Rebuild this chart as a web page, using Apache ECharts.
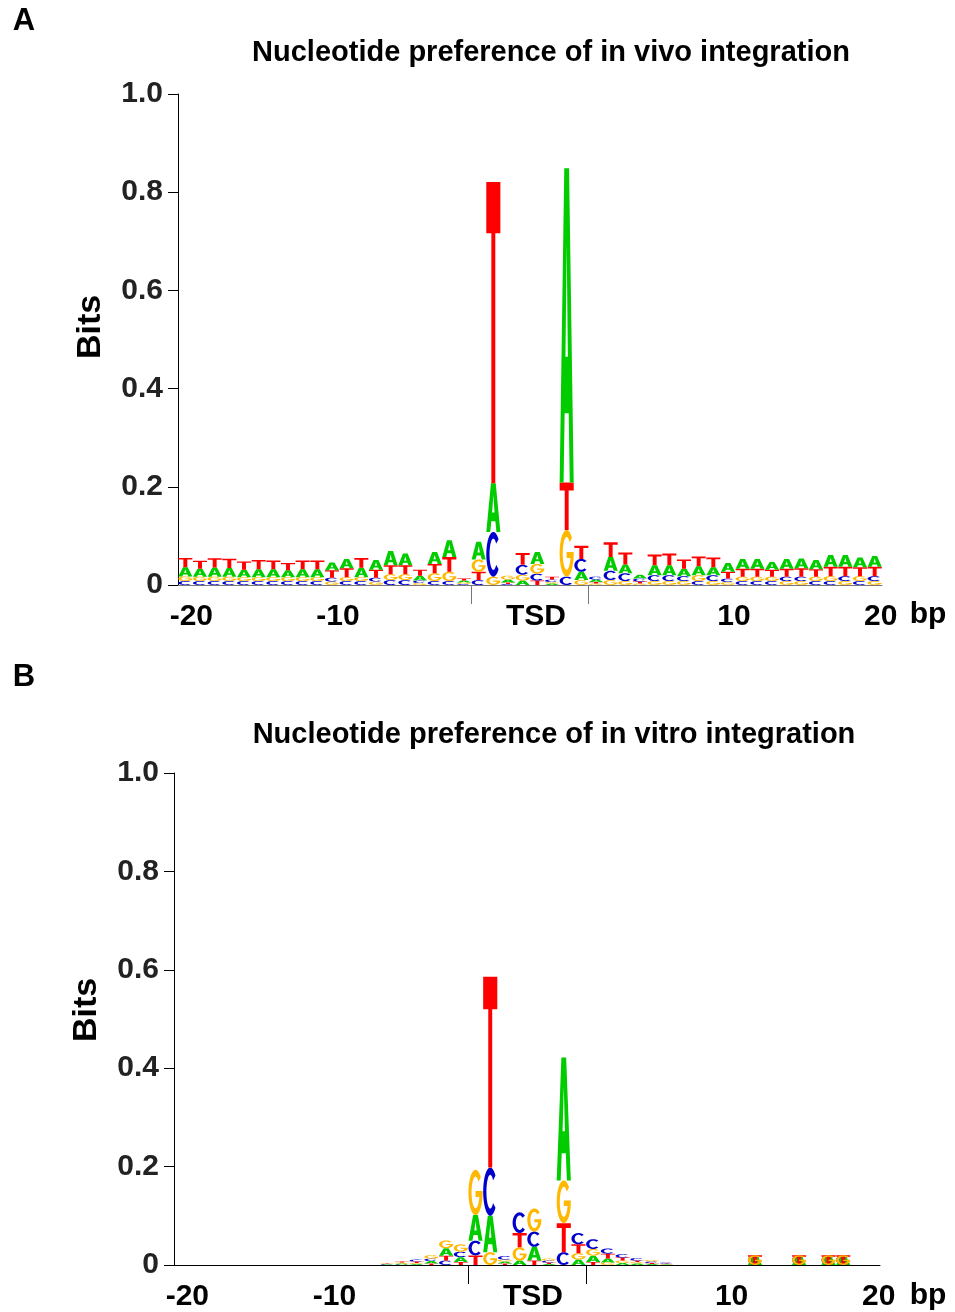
<!DOCTYPE html>
<html><head><meta charset="utf-8">
<script src="https://cdn.jsdelivr.net/npm/echarts@6.0.0/dist/echarts.min.js"></script>
<style>html,body{margin:0;padding:0;background:#fff}#c{width:955px;height:1312px}</style>
</head><body><div id="c"></div>
<script>
// ---- data (bits per nucleotide, columns: positions -20..-1, TSD 1..8, 1..20) ----
const letters = ['A', 'C', 'G', 'T'];
const letterColors = ['#00CC00', '#0000CC', '#FFB800', '#FF0000'];

const vivoA = [.0185,.016,.0185,.0175,.015,.016,.016,.014,.016,.016,
  .016,.019,.019,.020,.029,.024,.010,.024,.034,.004,
  .036,.099,.006,.009,.024,.003,.640,.017,.005,.028,
  .018,.008,.020,.020,.015,.018,.016,.018,.020,.020,
  .016,.020,.020,.019,.024,.024,.020,.022];
const vivoC = [.008,.008,.008,.008,.008,.008,.008,.008,.008,.008,
  .008,.008,.008,.008,.010,.010,.005,.008,.008,.002,
  .010,.091,.002,.020,.014,.005,.017,.026,.006,.019,
  .016,.006,.012,.012,.010,.008,.012,.007,.008,.008,
  .008,.009,.009,.008,.008,.010,.008,.010];
const vivoG = [.0095,.009,.009,.009,.008,.008,.008,.008,.008,.008,
  .007,.008,.008,.007,.012,.012,.004,.016,.019,.003,
  .025,.017,.008,.012,.020,.003,.095,.010,.003,.010,
  .008,.003,.008,.008,.008,.012,.008,.006,.009,.009,
  .009,.008,.008,.009,.010,.008,.010,.008];
const vivoT = [.019,.0165,.019,.019,.017,.019,.018,.015,.018,.018,
  .015,.018,.020,.016,.018,.018,.012,.019,.030,.004,
  .017,.614,.003,.024,.009,.006,.097,.027,.003,.030,
  .024,.004,.022,.024,.019,.020,.020,.014,.016,.016,
  .014,.016,.017,.015,.019,.019,.018,.019];

const vitroA = [0,0,0,0,0,0,0,0,0,0,
  0,0,0,0,.001,.002,.002,.005,.015,.010,
  .052,.074,.004,.009,.028,.002,.250,.011,.013,.008,
  .004,.003,.002,.001,0,0,0,0,0,0,
  0,0,0,0,0,0,0,0];
const vitroC = [0,0,0,0,0,0,0,0,0,0,
  0,0,0,0,.001,.001,.004,.005,.009,.011,
  .030,.098,.007,.042,.031,.004,.026,.023,.020,.0105,
  .007,.005,.003,.002,0,0,0,0,0,0,
  0,0,0,0,0,0,0,0];
const vitroG = [0,0,0,0,0,0,0,0,0,0,
  0,0,0,0,.001,.002,.002,.007,.016,.015,
  .092,.026,.004,.027,.047,.004,.087,.013,.0135,.005,
  .005,.003,.003,.001,0,0,0,0,0,0,
  0,0,0,0,0,0,0,0];
const vitroT = [0,0,0,0,0,0,0,0,0,0,
  0,0,0,0,.001,.002,.003,.003,.010,.006,
  .0195,.388,.003,.029,.009,.003,.059,.018,.006,.010,
  .006,.003,.002,.001,0,0,0,0,0,0,
  0,0,0,0,0,0,0,0];
// columns in panel B where tiny letters are drawn on top of each other
const vitroOverlayCols = [39, 42, 44, 45];
const vitroOverlayBits = [0.02, 0.02, 0.02, 0.02];

const xTickLabels = ['-20', '-10', 'TSD', '10', '20'];
const xTickAt = [0.5, 10.5, 24, 37.5, 47.5];
const tsdBounds = [20, 28];
const nCols = 48;

// ---- glyph outlines in unit box (y down) ----
function arcPts(rx, ry, a0, a1, step) {
  const pts = [];
  const n = Math.max(1, Math.round(Math.abs(a1 - a0) / step));
  for (let i = 0; i <= n; i++) {
    const a = (a0 + (a1 - a0) * i / n) * Math.PI / 180;
    pts.push([0.5 + rx * Math.cos(a), 0.5 - ry * Math.sin(a)]);
  }
  return pts;
}
const GLYPHS = (function () {
  const T = [[[0,0],[1,0],[1,0.17],[0.64,0.17],[0.64,1],[0.36,1],[0.36,0.17],[0,0.17]]];
  const A = [[[0.33,0],[0.67,0],[1,1],[0.72,1],[0.645,0.78],[0.355,0.78],[0.28,1],[0,1]],
             [[0.5,0.24],[0.415,0.6],[0.585,0.6]]];
  const tx = 0.23, ty = 0.15;
  const C = [arcPts(0.5, 0.5, 42, 318, 6).concat(arcPts(0.5 - tx, 0.5 - ty, 318, 42, 6))];
  const gOuter = arcPts(0.5, 0.5, 42, 358, 6);
  const G = [gOuter.concat([[1, 0.47], [0.5, 0.47], [0.5, 0.6], [0.77, 0.6]])
    .concat(arcPts(0.5 - 0.22, 0.5 - ty, 338, 42, 6))];
  return [A, C, G, T];
})();
function glyphPath(k, x, y, w, h) {
  let s = '';
  GLYPHS[k].forEach(function (poly) {
    poly.forEach(function (p, i) {
      s += (i ? 'L' : 'M') + (x + p[0] * w).toFixed(2) + ' ' + (y + p[1] * h).toFixed(2) + ' ';
    });
    s += 'Z ';
  });
  return s;
}

// ---- stacking ----
function buildStacks(arrs) {
  const out = [];
  for (let i = 0; i < nCols; i++) {
    const entries = [];
    for (let k = 0; k < 4; k++) if (arrs[k][i] > 0) entries.push({ k: k, h: arrs[k][i] });
    entries.sort(function (a, b) { return a.h - b.h; });
    let base = 0;
    entries.forEach(function (e) { out.push([i + 0.5, base, base + e.h, e.k]); base += e.h; });
  }
  return out;
}
function buildOverlay(cols, bits) {
  const out = [];
  const order = [0, 1, 3, 2];
  cols.forEach(function (c, j) { order.forEach(function (k) { out.push([c + 0.5, 0, bits[j], k]); }); });
  return out;
}

const stacksVivo = buildStacks([vivoA, vivoC, vivoG, vivoT]);
const stacksVitro = buildStacks([vitroA, vitroC, vitroG, vitroT]);
const overlayVitro = buildOverlay(vitroOverlayCols, vitroOverlayBits);

const LW = 0.96;
function renderLetter(params, api) {
  const x = api.value(0), y0 = api.value(1), y1 = api.value(2), k = api.value(3);
  const p0 = api.coord([x - LW / 2, y0]);
  const p1 = api.coord([x + LW / 2, y1]);
  const w = p1[0] - p0[0], h = p0[1] - p1[1];
  return {
    type: 'path',
    shape: { pathData: glyphPath(k, p0[0], p1[1], w, h) },
    style: { fill: letterColors[k] }
  };
}

const FONT = '"Liberation Sans", Arial, Helvetica, sans-serif';
function xAxisCfg(gi, lineColor) {
  return {
    type: 'value', gridIndex: gi, min: 0, max: nCols,
    axisLine: { show: true, lineStyle: { color: lineColor, width: 1 } },
    axisTick: { show: true, customValues: tsdBounds, length: 19, lineStyle: { color: lineColor, width: 1 } },
    axisLabel: {
      show: true, customValues: xTickAt, margin: 17,
      padding: [0, 0, 0, 12],
      fontFamily: FONT, fontWeight: 'bold', fontSize: 30, color: '#000',
      formatter: function (v) { const i = xTickAt.indexOf(v); return i >= 0 ? xTickLabels[i] : ''; }
    },
    splitLine: { show: false }
  };
}
function yAxisCfg(gi) {
  return {
    type: 'value', gridIndex: gi, min: 0, max: 1, interval: 0.2,
    axisLine: { show: true, lineStyle: { color: '#000', width: 1 } },
    axisTick: { show: true, length: 10, lineStyle: { color: '#000' } },
    axisLabel: {
      margin: 15, fontFamily: FONT, fontWeight: 'bold', fontSize: 30, color: '#222',
      formatter: function (v) { return v === 0 ? '0' : v.toFixed(1); }
    },
    splitLine: { show: false }
  };
}
function txt(x, y, s, size, extra) {
  return Object.assign({
    type: 'text', x: x, y: y,
    style: { text: s, fill: '#000', font: 'bold ' + size + 'px ' + FONT, textAlign: 'center', textVerticalAlign: 'middle' }
  }, extra || {});
}

const chart = echarts.init(document.getElementById('c'), null, { renderer: 'canvas' });
chart.setOption({
  animation: false,
  backgroundColor: '#fff',
  grid: [
    { left: 178, top: 94, width: 704, height: 491 },
    { left: 174, top: 773, width: 706, height: 495 }
  ],
  xAxis: [xAxisCfg(0, '#777'), xAxisCfg(1, '#000')],
  yAxis: [yAxisCfg(0), yAxisCfg(1)],
  series: [
    { type: 'custom', xAxisIndex: 0, yAxisIndex: 0, data: stacksVivo, renderItem: renderLetter, clip: false },
    { type: 'custom', xAxisIndex: 1, yAxisIndex: 1, data: stacksVitro, renderItem: renderLetter, clip: false },
    { type: 'custom', xAxisIndex: 1, yAxisIndex: 1, data: overlayVitro, renderItem: renderLetter, clip: false }
  ],
  graphic: [
    txt(24, 21, 'A', 31),
    txt(551, 53, 'Nucleotide preference of in vivo integration', 29),
    txt(91, 327, 'Bits', 34, { rotation: Math.PI / 2 }),
    txt(928, 615, 'bp', 30),
    txt(24, 677, 'B', 31),
    txt(554, 735, 'Nucleotide preference of in vitro integration', 29),
    txt(87, 1010, 'Bits', 34, { rotation: Math.PI / 2 }),
    txt(928, 1296, 'bp', 30)
  ]
});
</script></body></html>
